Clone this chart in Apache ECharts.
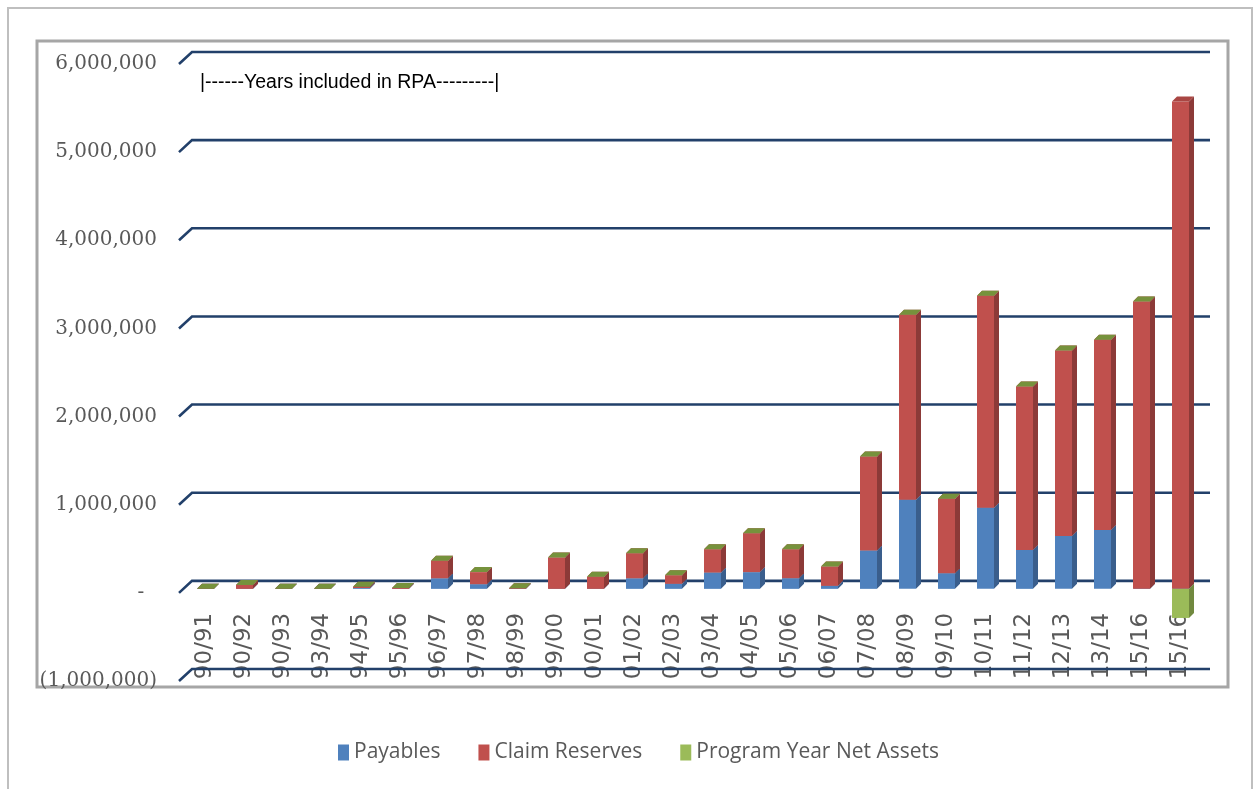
<!DOCTYPE html>
<html>
<head>
<meta charset="utf-8">
<script src="https://cdn.jsdelivr.net/npm/echarts@6/dist/echarts.min.js"></script>
<style>
  html, body { margin: 0; padding: 0; background: #ffffff; }
  #chart { width: 1257px; height: 789px; }
</style>
</head>
<body>
<div id="chart"></div>
<script>
// Program years (category axis)
const years = ['90/91', '90/92', '90/93', '93/94', '94/95', '95/96', '96/97', '97/98', '98/99', '99/00',
               '00/01', '01/02', '02/03', '03/04', '04/05', '05/06', '06/07', '07/08', '08/09', '09/10',
               '10/11', '11/12', '12/13', '13/14', '15/16', '15/16'];

// Stacked amounts per program year
const payables = [0, 0, 0, 0, 10000, 0, 120000, 53000, 0, 0,
                  0, 120000, 57000, 185000, 190000, 121000, 34000, 435000, 1010000, 178000,
                  919000, 442000, 601000, 669000, 0, 0];
const claimReserves = [0, 45000, 0, 0, 15000, 10000, 198000, 137000, 8000, 355000,
                       136000, 285000, 98000, 265000, 442000, 329000, 219000, 1066000, 2099000, 843000,
                       2405000, 1853000, 2103000, 2156000, 3260000, 5529000];
const netAssets = [0, 0, 0, 0, 0, 0, 0, 0, 0, 0,
                   0, 0, 0, 0, 0, 0, 0, 0, 0, 0,
                   0, 0, 0, 0, 0, -330000];

// Value axis ticks
const yTicks = [-1000000, 0, 1000000, 2000000, 3000000, 4000000, 5000000, 6000000];

const seriesDefs = [
  { name: 'Payables', values: payables, front: '#4F81BD', side: '#3A5E8C', top: '#4672A8' },
  { name: 'Claim Reserves', values: claimReserves, front: '#C0504D', side: '#8C3A38', top: '#A94643' },
  { name: 'Program Year Net Assets', values: netAssets, front: '#9BBB59', side: '#71893F', top: '#76923C' }
];

// Build stack bases: positives pile up from zero, negatives hang down from zero
const posBase = years.map(() => 0);
const negBase = years.map(() => 0);
const stackedData = seriesDefs.map(def => def.values.map((v, i) => {
  let base;
  if (v >= 0) { base = posBase[i]; posBase[i] += v; }
  else { base = negBase[i]; negBase[i] += v; }
  return [i, v, base];
}));

const BAR_W = 17;   // front face width
const DEPTH = 5;    // 3D depth offset
const LIFT = 4;     // bars stand slightly behind the front edge of the floor

function makeBoxRenderer(def) {
  return function (params, api) {
    const i = api.value(0), v = api.value(1), base = api.value(2);
    const p0 = api.coord([i, base]);
    const p1 = api.coord([i, base + v]);
    const x0 = p0[0] - BAR_W / 2, x1 = p0[0] + BAR_W / 2;
    const yA = p0[1] - LIFT, yB = p1[1] - LIFT;
    const top = Math.min(yA, yB), bot = Math.max(yA, yB);
    const children = [
      { type: 'rect', shape: { x: x0, y: top, width: BAR_W, height: bot - top },
        style: { fill: def.front } },
      { type: 'polygon', shape: { points: [[x1, top], [x1 + DEPTH, top - DEPTH], [x1 + DEPTH, bot - DEPTH], [x1, bot]] },
        style: { fill: def.side } }
    ];
    if (v >= 0) {
      children.push({ type: 'polygon',
        shape: { points: [[x0, top], [x0 + DEPTH, top - DEPTH], [x1 + DEPTH, top - DEPTH], [x1, top]] },
        style: { fill: def.top } });
    }
    return { type: 'group', children: children };
  };
}

// Back-wall gridlines with the slanted floor edge
function gridRenderer(params, api) {
  const cs = params.coordSys;
  const y = api.coord([0, api.value(1)])[1];
  return {
    type: 'polyline',
    shape: { points: [[cs.x - 7, y], [cs.x + 6, y - 12], [cs.x + cs.width + 10, y - 12]] },
    style: { stroke: '#22406A', lineWidth: 2.6, fill: null }
  };
}

function fmtAxis(v) {
  if (v === 0) return '-  ';
  const s = Math.abs(v).toString().replace(/\B(?=(\d{3})+(?!\d))/g, ',');
  return v < 0 ? '(' + s + ')' : s;
}

const chart = echarts.init(document.getElementById('chart'), null, { renderer: 'canvas' });

// Grid spans -1M .. 6M; the category labels sit just under the zero line
const GRID_TOP = 64, GRID_BOTTOM = 108, GRID_H = 789 - GRID_TOP - GRID_BOTTOM;
const zeroOffset = -GRID_H / 7;

chart.setOption({
  backgroundColor: '#ffffff',
  animation: false,
  grid: {
    left: 186, width: 1014, top: GRID_TOP, bottom: GRID_BOTTOM,
    containLabel: false, outerBoundsMode: 'none'
  },
  legend: {
    left: 333, top: 737,
    itemWidth: 11, itemHeight: 16, itemGap: 38,
    icon: 'rect',
    selectedMode: false,
    textStyle: { fontFamily: 'Open Sans', fontSize: 21, color: '#595959' },
    data: seriesDefs.map(d => d.name)
  },
  xAxis: {
    type: 'category',
    data: years,
    position: 'bottom',
    offset: zeroOffset,
    axisLine: { show: false, onZero: false },
    axisTick: { show: false },
    axisLabel: {
      interval: 0, rotate: 90, margin: 20,
      fontFamily: 'DejaVu Sans', fontSize: 23, color: '#595959'
    },
    splitLine: { show: false }
  },
  yAxis: {
    type: 'value',
    min: -1000000, max: 6000000, interval: 1000000,
    axisLine: { show: false },
    axisTick: { show: false },
    splitLine: { show: false },
    axisLabel: {
      margin: 29, formatter: fmtAxis, padding: [9, 0, 0, 0],
      fontFamily: 'DejaVu Serif', fontSize: 20, color: '#595959'
    }
  },
  graphic: [
    { type: 'polyline', silent: true, z: 0,
      shape: { points: [[8, 789], [8, 8], [1252, 8], [1252, 789]] },
      style: { stroke: '#BFBFBF', lineWidth: 2, fill: null } },
    { type: 'rect', silent: true, z: 0,
      shape: { x: 37, y: 41, width: 1191, height: 646 },
      style: { stroke: '#A6A6A6', lineWidth: 3, fill: null } },
    { type: 'text', silent: true, z: 10, left: 200, top: 73,
      style: { text: '|------Years included in RPA---------|', fill: '#000000',
               font: '19.5px "Liberation Sans"' } }
  ],
  series: [
    {
      type: 'custom', name: 'gridlines', silent: true, z: 1, clip: false,
      renderItem: gridRenderer,
      data: yTicks.map(v => [0, v])
    }
  ].concat(seriesDefs.map((def, k) => ({
    type: 'custom', name: def.name, z: 2 + k, clip: false,
    itemStyle: { color: def.front },
    renderItem: makeBoxRenderer(def),
    encode: { x: 0, y: 1 },
    data: stackedData[k]
  })))
});
</script>
</body>
</html>
